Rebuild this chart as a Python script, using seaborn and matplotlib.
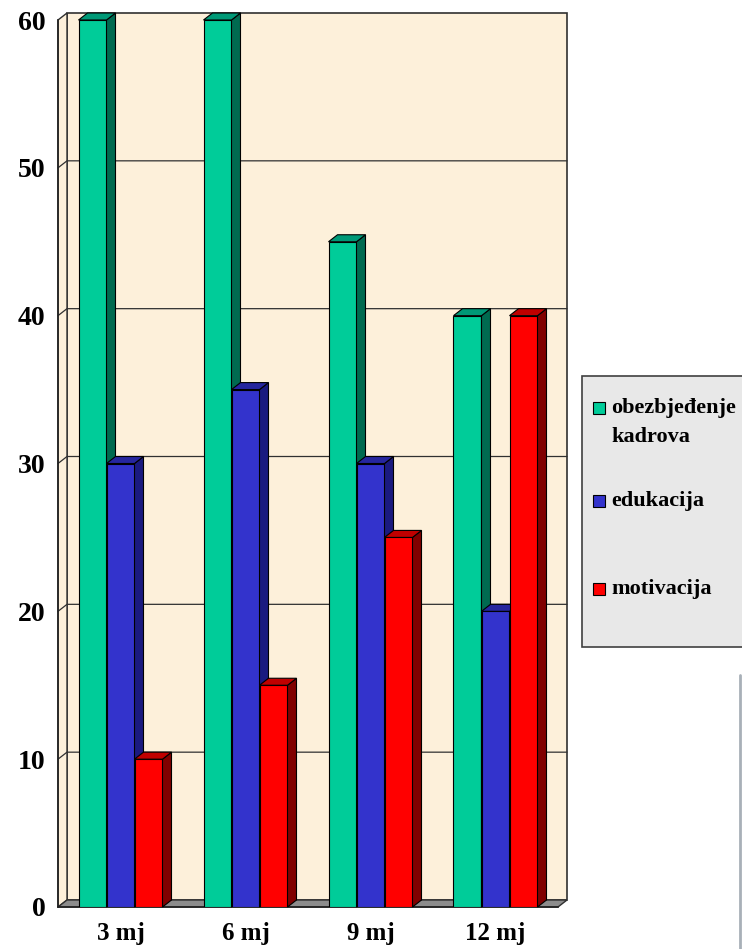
import matplotlib
matplotlib.use('Agg')
import matplotlib.pyplot as plt
import matplotlib.colors as mcolors
from matplotlib.patches import Polygon, Rectangle
from matplotlib.lines import Line2D
import pandas as pd
import seaborn as sns

periods = ['3 mj', '6 mj', '9 mj', '12 mj']
series = ['obezbjeđenje\nkadrova', 'edukacija', 'motivacija']
kadrovi = [60, 60, 45, 40]
edukacija = [30, 35, 30, 20]
motivacija = [10, 15, 25, 40]
y_ticks = [0, 10, 20, 30, 40, 50, 60]

front_colors = ['#00cc99', '#3333cc', '#ff0000']
side_colors = ['#006a50', '#1a1a80', '#800000']
top_colors = ['#009977', '#26269e', '#c00000']
wall_color = '#fdf0da'
floor_color = '#8c8c8c'

W, H = 742, 949

sns.set_style('white')
plt.rcParams['font.family'] = ['Liberation Serif', 'DejaVu Serif']
plt.rcParams['font.weight'] = 'bold'
plt.rcParams['text.color'] = 'black'
plt.rcParams['xtick.color'] = 'black'
plt.rcParams['ytick.color'] = 'black'


def build_frame():
    rows = []
    for name, vals in zip(series, [kadrovi, edukacija, motivacija]):
        for p, v in zip(periods, vals):
            rows.append({'period': p, 'series': name, 'value': v})
    return pd.DataFrame(rows)


def main():
    df = build_frame()
    fig = plt.figure(figsize=(W / 100, H / 100), dpi=100)
    fig.patch.set_facecolor('white')
    # front box of the plot: x 58..558 px, y 20..907 px (from top)
    ax = fig.add_axes([58 / W, (H - 907) / H, 500 / W, 887 / H])
    ax.set_facecolor('none')

    sns.barplot(data=df, x='period', y='value', hue='series', palette=front_colors,
                width=0.672, saturation=1, edgecolor='black', linewidth=0.8,
                legend=False, ax=ax)
    ax.set_xlim(-0.5, 3.5)
    ax.set_ylim(0, 60)

    # depth offset in data units (9 px right, 7 px up)
    dx = 9 * 4 / 500
    dy = 7 * 60 / 887
    x0, x1 = -0.5, 3.5
    top = y_ticks[-1]

    # back wall, left wall, floor
    ax.add_patch(Polygon([(x0 + dx, dy), (x1 + dx, dy), (x1 + dx, top + dy), (x0 + dx, top + dy)],
                         closed=True, facecolor=wall_color, edgecolor='#303030', lw=1.2,
                         zorder=0.5, clip_on=False))
    ax.add_patch(Polygon([(x0, 0), (x0 + dx, dy), (x0 + dx, top + dy), (x0, top)],
                         closed=True, facecolor=wall_color, edgecolor='#303030', lw=1,
                         zorder=0.6, clip_on=False))
    for v in y_ticks[1:-1]:
        ax.plot([x0, x0 + dx, x1 + dx], [v, v + dy, v + dy], color='#303030', lw=0.9,
                zorder=0.8, clip_on=False)
    ax.add_patch(Polygon([(x0, 0), (x1, 0), (x1 + dx, dy), (x0 + dx, dy)],
                         closed=True, facecolor=floor_color, edgecolor='#303030', lw=1,
                         zorder=1, clip_on=False))

    # 3d sides and tops of the bars, drawn left to right
    bars = [p for p in ax.patches if isinstance(p, Rectangle) and p.get_height() > 0]
    bars.sort(key=lambda p: p.get_x())
    hexes = [c.lower() for c in front_colors]
    for i, p in enumerate(bars):
        k = hexes.index(mcolors.to_hex(p.get_facecolor()).lower())
        bx, bw, bh = p.get_x(), p.get_width(), p.get_height()
        z = 3 + i * 0.1
        p.set_zorder(z)
        ax.add_patch(Polygon([(bx + bw, 0), (bx + bw + dx, dy), (bx + bw + dx, bh + dy), (bx + bw, bh)],
                             closed=True, facecolor=side_colors[k], edgecolor='black', lw=0.8,
                             zorder=z + 0.05, clip_on=False))
        ax.add_patch(Polygon([(bx, bh), (bx + dx, bh + dy), (bx + bw + dx, bh + dy), (bx + bw, bh)],
                             closed=True, facecolor=top_colors[k], edgecolor='black', lw=0.8,
                             zorder=z + 0.05, clip_on=False))

    # axes styling
    for s in ['top', 'right']:
        ax.spines[s].set_visible(False)
    for s in ['left', 'bottom']:
        ax.spines[s].set_color('#202020')
        ax.spines[s].set_linewidth(1.2)
        ax.spines[s].set_zorder(2)
    ax.set_yticks(y_ticks)
    ax.set_yticklabels([str(v) for v in y_ticks], fontsize=20, fontweight='bold')
    ax.tick_params(axis='y', length=6, width=1.2, pad=3, color='#202020')
    ax.set_xticks(range(len(periods)))
    ax.set_xticklabels(periods, fontsize=18, fontweight='bold')
    ax.set_xticks([-0.5, 0.5, 1.5, 2.5, 3.5], minor=True)
    ax.tick_params(axis='x', which='major', length=0, pad=11)
    ax.tick_params(axis='x', which='minor', length=6, width=1.2, color='#202020')
    ax.set_xlabel('')
    ax.set_ylabel('')
    ax.grid(False)

    # legend box
    fig.patches.append(Rectangle((582 / W, (H - 647) / H), 170 / W, 271 / H,
                                 transform=fig.transFigure, facecolor='#e8e8e8',
                                 edgecolor='#404040', lw=1.2))
    entry_y = [408, 501, 589]
    sq = 12
    for name, c, yy in zip(series, front_colors, entry_y):
        fig.patches.append(Rectangle((593 / W, (H - yy - sq / 2) / H), sq / W, sq / H,
                                     transform=fig.transFigure, facecolor=c,
                                     edgecolor='black', lw=0.8))
        fig.text(611 / W, (H - yy) / H, name.split('\n')[0], fontsize=16, fontweight='bold',
                 va='center', ha='left')
        for j, extra in enumerate(name.split('\n')[1:]):
            fig.text(611 / W, (H - yy - 29 * (j + 1)) / H, extra, fontsize=16,
                     fontweight='bold', va='center', ha='left')

    fig.lines.append(Line2D([740 / W, 740 / W], [0, (H - 675) / H], transform=fig.transFigure,
                            color='#a8b0b8', lw=2))

    fig.savefig('out.png', dpi=100)
    plt.close(fig)


if __name__ == '__main__':
    main()
